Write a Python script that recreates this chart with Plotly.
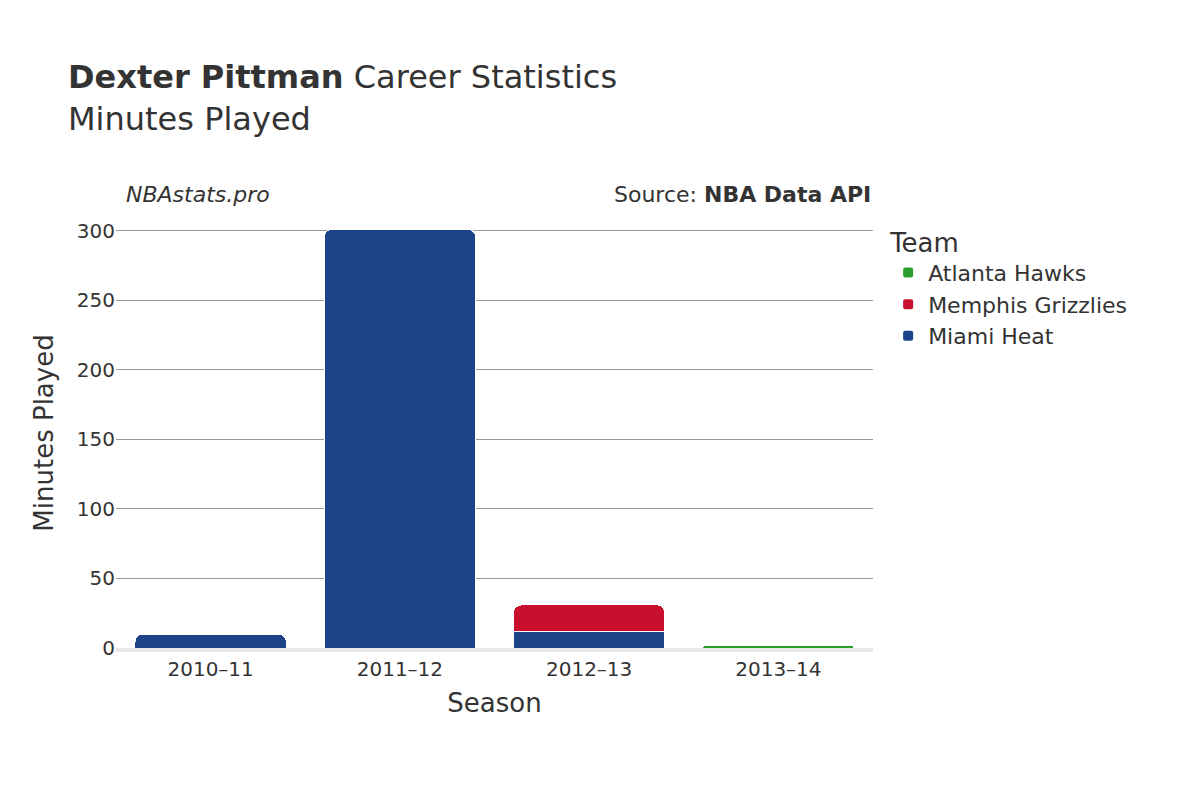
import plotly.graph_objects as go

seasons = ["2010–11", "2011–12", "2012–13", "2013–14"]
teams = ["Miami Heat", "Memphis Grizzlies", "Atlanta Hawks"]
colors = ["#1d4388", "#c8102e", "#2ca02c"]
minutes = {
    "Miami Heat": [10, 301, 12, None],
    "Memphis Grizzlies": [None, None, 19, None],
    "Atlanta Hawks": [None, None, None, 2],
}

fig = go.Figure()
for team, color in zip(teams, colors):
    fig.add_trace(go.Bar(
        x=seasons, y=minutes[team], name=team, marker_color=color,
        marker_line=dict(color="white", width=1),
    ))

font = "DejaVu Sans"
fig.update_layout(
    barmode="stack",
    barcornerradius=8,
    bargap=0.2,
    width=1200, height=800,
    paper_bgcolor="white", plot_bgcolor="white",
    font=dict(family=font, size=20, color="#333"),
    margin=dict(l=108, r=335, t=210, b=160),
    title=dict(
        text="<b>Dexter Pittman</b> Career Statistics<br>Minutes Played",
        x=0.05, xanchor="left", y=0.9, yanchor="top",
        font=dict(size=32, color="#333"),
    ),
    legend=dict(
        title=dict(text="Team", font=dict(size=26)),
        x=1.02, y=1.0, yanchor="top", font=dict(size=22),
        itemsizing="constant",
    ),
    annotations=[
        dict(text="<i>NBAstats.pro</i>", xref="paper", yref="paper", x=0.01, y=1.02,
             xanchor="left", yanchor="bottom", showarrow=False, font=dict(size=22)),
        dict(text="Source: <b>NBA Data API</b>", xref="paper", yref="paper", x=1.0, y=1.02,
             xanchor="right", yanchor="bottom", showarrow=False, font=dict(size=22)),
    ],
)
fig.update_xaxes(title_text="Season", title_font=dict(size=26),
                 showline=True, linecolor="#e8e8e8", linewidth=4, ticks="")
fig.update_yaxes(title_text="Minutes Played", title_font=dict(size=26),
                 range=[0, 309], dtick=50, gridcolor="#999", gridwidth=1,
                 zeroline=False, ticks="")
fig.write_html("out.html")
